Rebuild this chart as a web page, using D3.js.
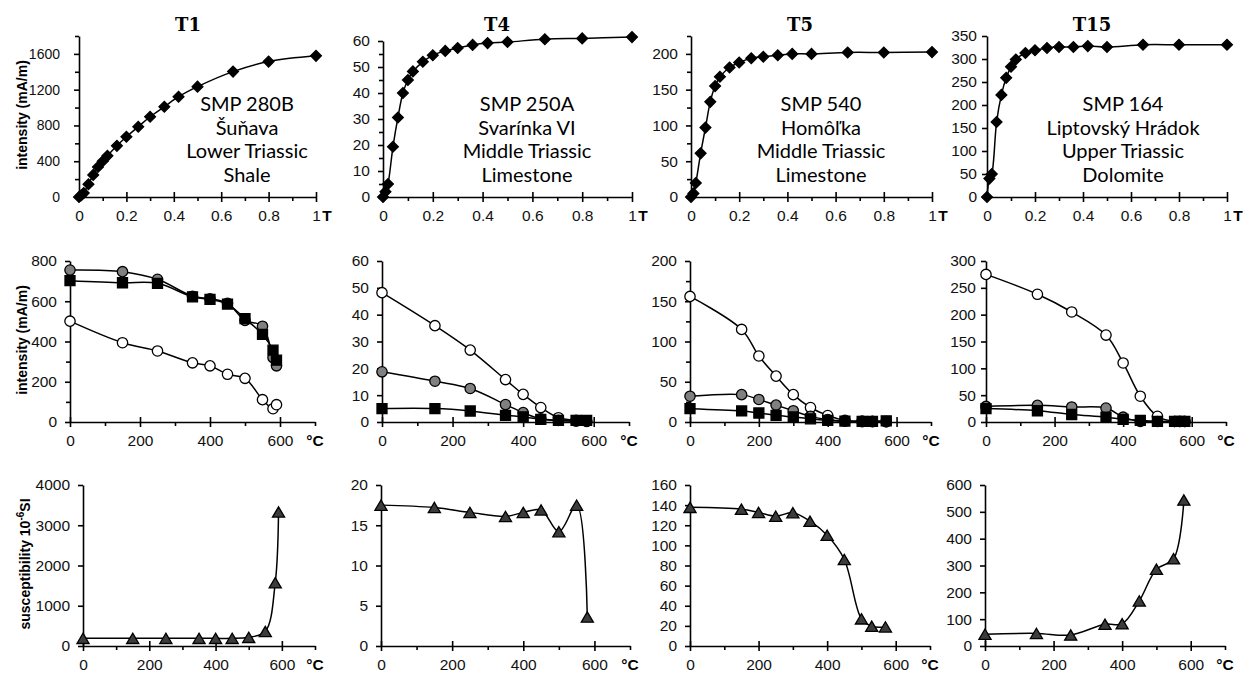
<!DOCTYPE html>
<html>
<head>
<meta charset="utf-8">
<script src="https://cdn.jsdelivr.net/npm/d3@7"></script>
<style>
  body { margin: 0; background: #fff; }
  svg { display: block; }
  .tick text { font-family: "Liberation Sans", Arial, sans-serif; font-size: 15.5px; fill: #111; }
  .domain, .tick line { stroke: #000; stroke-width: 1.6; }
</style>
</head>
<body>
<svg id="chart" width="1244" height="677"></svg>
<script>
// ---- data ----
// row 1: IRM acquisition, applied field (T)
const fields = [0, 0.01, 0.02, 0.04, 0.06, 0.08, 0.1, 0.12, 0.16, 0.2, 0.25, 0.3, 0.36, 0.42, 0.5, 0.65, 0.8, 1];
const irmT1 = [0, 20, 45, 142, 247, 336, 400, 460, 572, 673, 785, 897, 1009, 1121, 1234, 1402, 1514, 1578];
const irmT4 = [0, 2, 5, 19.3, 30.6, 40, 45, 48.3, 52, 54.5, 56.2, 57.3, 58.5, 59.2, 59.6, 60.7, 61, 61.5];
const irmT5 = [0, 5, 19.6, 61, 97, 133, 155, 168, 181, 188, 194, 196, 198, 200, 200, 202, 202, 202.5];
const irmT15 = [0, 40, 50, 163, 222, 259, 283, 299, 313, 319, 324, 326, 326, 328, 326, 331, 331, 331];

// row 2: thermal demagnetisation of 3-component IRM (soft = open, medium = grey, hard = square)
const tempT1 = [0, 150, 250, 350, 400, 450, 500, 550, 580, 590];
const softT1 = [501, 394, 353, 294, 279, 237, 217, 111, 66, 86];
const mediumT1 = [755, 747, 709, 625, 612, 590, 505, 476, 320, 279];
const hardT1 = [702, 692, 689, 622, 609, 586, 514, 435, 357, 307];

const tempT4 = [0, 150, 250, 350, 400, 450, 500, 550, 580];
const softT4 = [48.2, 35.9, 26.8, 15.8, 10.3, 5.4, 1.6, 0.6, 0.3];
const mediumT4 = [18.7, 15.2, 12.5, 6.5, 3.5, 1.2, 0.6, 0.3, 0.2];
const hardT4 = [5.0, 5.0, 4.1, 2.5, 1.9, 1.0, 0.6, 0.6, 0.6];

const tempT5 = [0, 150, 200, 250, 300, 350, 400, 450, 500, 530, 570];
const softT5 = [156, 115, 82, 57, 34, 18, 8, 2, 1, 0.8, 0.5];
const mediumT5 = [32, 34, 28, 21, 14, 7, 3, 1, 0.5, 0.5, 0.5];
const hardT5 = [16.6, 13.7, 11.2, 8.3, 6.2, 4, 2, 1.2, 0.8, 0.8, 1.5];

const tempT15 = [0, 150, 250, 350, 400, 450, 500, 550, 565, 580];
const softT15 = [275, 238, 205, 162, 110, 48, 10.6, 1, 1, 1];
const mediumT15 = [29, 31, 28, 26, 9, 1, 1, 1, 1, 1];
const hardT15 = [25, 21, 14, 9, 5, 3, 1, 1, 1, 1];

// row 3: magnetic susceptibility on heating (10^-6 SI)
const chiTempT1 = [0, 150, 250, 350, 400, 450, 500, 550, 580, 590];
const chiT1 = [190, 190, 190, 190, 190, 190, 215, 360, 1570, 3330];
const chiTempT4 = [0, 150, 250, 350, 400, 450, 500, 550, 580];
const chiT4 = [17.5, 17.2, 16.6, 16.1, 16.6, 16.9, 14.2, 17.5, 3.6];
const chiTempT5 = [0, 150, 200, 250, 300, 350, 400, 450, 500, 530, 570];
const chiT5 = [137.8, 136, 132.8, 129, 132.5, 124, 110, 86, 27, 19.6, 19];
const chiTempT15 = [0, 150, 250, 350, 400, 450, 500, 550, 580];
const chiT15 = [44, 47, 41, 81, 83, 168, 286, 325, 544];

const sampleNames = ["T1", "T4", "T5", "T15"];
const sampleNotes = [
  ["SMP 280B", "Šuňava", "Lower Triassic", "Shale"],
  ["SMP 250A", "Svarínka VI", "Middle Triassic", "Limestone"],
  ["SMP 540", "Homôľka", "Middle Triassic", "Limestone"],
  ["SMP 164", "Liptovský Hrádok", "Upper Triassic", "Dolomite"]
];

const fieldTicks = [0, 0.2, 0.4, 0.6, 0.8, 1];
const fieldMinor = [0.1, 0.3, 0.5, 0.7, 0.9];
const tempTicks = [0, 200, 400, 600];
const tempMinor = [100, 300, 500, 700];

// ---- drawing ----
const svg = d3.select("#chart");
const GREY = "#808080";
const TRI = "#3c3c3c";

// triangle centred on its bounding box, like the spreadsheet marker
const triangleBox = {
  draw(ctx, size) {
    const w = Math.sqrt(size * 1.6), h = w * 0.85;
    ctx.moveTo(0, -h / 2);
    ctx.lineTo(w / 2, h / 2);
    ctx.lineTo(-w / 2, h / 2);
    ctx.closePath();
  }
};

function markerPath(kind) {
  if (kind === "diamond") return d3.symbol(d3.symbolSquare, 58)();
  if (kind === "square") return d3.symbol(d3.symbolSquare, 100)();
  if (kind === "triangle") return d3.symbol(triangleBox, 92)();
  return d3.symbol(d3.symbolCircle, 84)();
}

function drawPanel(p) {
  const g = svg.append("g");
  const x = d3.scaleLinear().domain(p.xDomain).range(p.xRange);
  const y = d3.scaleLinear().domain(p.yDomain).range(p.yRange);
  const y0 = y(0);

  // x axis: minor ticks outward, major ticks crossing
  g.append("g").attr("transform", `translate(0,${y0})`)
    .call(d3.axisBottom(x).tickValues(p.xMinor).tickSize(4).tickFormat(""))
    .select(".domain").remove();
  const xa = g.append("g").attr("transform", `translate(0,${y0})`)
    .call(d3.axisBottom(x).tickValues(p.xMajor).tickSizeInner(5).tickSizeOuter(0)
      .tickPadding(8).tickFormat(p.xFormat));
  xa.selectAll(".tick line").attr("y1", -5);

  // y axis
  if (p.yMinor) {
    g.append("g").attr("transform", `translate(${x(0)},0)`)
      .call(d3.axisLeft(y).tickValues(p.yMinor).tickSize(4).tickFormat(""))
      .select(".domain").remove();
  }
  const ya = g.append("g").attr("transform", `translate(${x(0)},0)`)
    .call(d3.axisLeft(y).tickValues(p.yMajor).tickSizeInner(5).tickSizeOuter(0)
      .tickPadding(p.yPad).tickFormat(d3.format("d")));
  if (p.yFont) ya.selectAll(".tick text").style("font-size", p.yFont + "px");

  // unit at the end of the x axis
  g.append("text")
    .attr("x", x(p.xDomain[1]) + p.unitDx)
    .attr("y", y0 + 24)
    .attr("text-anchor", "middle")
    .style("font-family", "Liberation Sans, Arial, sans-serif")
    .style("font-size", "15.5px").style("font-weight", "bold")
    .text(p.unit);

  const line = d3.line()
    .x(d => x(d[0])).y(d => y(d[1]))
    .curve(d3.curveCatmullRom.alpha(0.5));

  p.series.forEach(s => {
    const pts = s.xs.map((v, i) => [v, s.ys[i]]);
    g.append("path").datum(pts)
      .attr("d", line).attr("fill", "none")
      .attr("stroke", "#000").attr("stroke-width", 1.5);
  });
  p.series.forEach(s => {
    const pts = s.xs.map((v, i) => [v, s.ys[i]]);
    g.selectAll(null).data(pts).enter().append("path")
      .attr("d", markerPath(s.marker))
      .attr("transform", d => `translate(${x(d[0])},${y(d[1])})` + (s.marker === "diamond" ? " rotate(45)" : ""))
      .attr("fill", s.fill).attr("stroke", "#000").attr("stroke-width", 1.3);
  });
}

const fieldFmt = d => d === 0 ? "0" : d === 1 ? "1" : d.toFixed(1);
const tempFmt = d3.format("d");

// row 1 geometry per column
const row1 = [
  { xRange: [79, 316], yDomain: [0, 1800], yRange: [197, 36], yMajor: d3.range(0, 1601, 400), yMinor: d3.range(200, 1801, 400), ys: irmT1, yPad: 14, yFont: 14 },
  { xRange: [383, 632], yDomain: [0, 60], yRange: [197, 41], yMajor: d3.range(0, 61, 10), yMinor: d3.range(5, 60, 10), ys: irmT4, yPad: 8 },
  { xRange: [691, 932], yDomain: [0, 225], yRange: [197, 36], yMajor: d3.range(0, 201, 50), yMinor: d3.range(25, 226, 50), ys: irmT5, yPad: 8 },
  { xRange: [987, 1227], yDomain: [0, 350], yRange: [197, 36], yMajor: d3.range(0, 351, 50), yMinor: null, ys: irmT15, yPad: 5 }
];
row1.forEach(r => drawPanel({
  xDomain: [0, 1], xRange: r.xRange, yDomain: r.yDomain, yRange: r.yRange,
  xMajor: fieldTicks, xMinor: fieldMinor, xFormat: fieldFmt,
  yMajor: r.yMajor, yMinor: r.yMinor, yPad: r.yPad, yFont: r.yFont,
  unit: "T", unitDx: 11,
  series: [{ xs: fields, ys: r.ys, marker: "diamond", fill: "#000" }]
}));

const row2 = [
  { xRange: [70, 315], yDomain: [0, 800], yMajor: d3.range(0, 801, 200), yMinor: d3.range(100, 800, 200), t: tempT1, s: [softT1, mediumT1, hardT1], yPad: 8 },
  { xRange: [382, 629], yDomain: [0, 60], yMajor: d3.range(0, 61, 10), yMinor: null, t: tempT4, s: [softT4, mediumT4, hardT4], yPad: 8 },
  { xRange: [690, 931], yDomain: [0, 200], yMajor: d3.range(0, 201, 50), yMinor: d3.range(25, 200, 50), t: tempT5, s: [softT5, mediumT5, hardT5], yPad: 8 },
  { xRange: [986, 1226], yDomain: [0, 300], yMajor: d3.range(0, 301, 50), yMinor: null, t: tempT15, s: [softT15, mediumT15, hardT15], yPad: 5 }
];
row2.forEach(r => drawPanel({
  xDomain: [0, 700], xRange: r.xRange, yDomain: r.yDomain, yRange: [422, 261],
  xMajor: tempTicks, xMinor: tempMinor, xFormat: tempFmt,
  yMajor: r.yMajor, yMinor: r.yMinor, yPad: r.yPad,
  unit: "°C", unitDx: 0,
  series: [
    { xs: r.t, ys: r.s[0], marker: "circle", fill: "#fff" },
    { xs: r.t, ys: r.s[1], marker: "circle", fill: GREY },
    { xs: r.t, ys: r.s[2], marker: "square", fill: "#000" }
  ]
}));

const row3 = [
  { xRange: [83, 315], yDomain: [0, 4000], yMajor: d3.range(0, 4001, 1000), t: chiTempT1, ys: chiT1 },
  { xRange: [381, 630], yDomain: [0, 20], yMajor: d3.range(0, 21, 5), t: chiTempT4, ys: chiT4 },
  { xRange: [690, 930], yDomain: [0, 160], yMajor: d3.range(0, 161, 20), t: chiTempT5, ys: chiT5 },
  { xRange: [985, 1225], yDomain: [0, 600], yMajor: d3.range(0, 601, 100), t: chiTempT15, ys: chiT15 }
];
row3.forEach(r => drawPanel({
  xDomain: [0, 700], xRange: r.xRange, yDomain: r.yDomain, yRange: [646, 485],
  xMajor: tempTicks, xMinor: tempMinor, xFormat: tempFmt,
  yMajor: r.yMajor, yMinor: null, yPad: 8,
  unit: "°C", unitDx: 0,
  series: [{ xs: r.t, ys: r.ys, marker: "triangle", fill: TRI }]
}));

// column titles and sample notes
const titleX = [188, 497, 800, 1092];
const noteX = [247, 527, 821, 1123];
sampleNames.forEach((name, i) => {
  svg.append("text").attr("x", titleX[i]).attr("y", 31)
    .attr("text-anchor", "middle")
    .style("font-family", "DejaVu Serif, serif").style("font-weight", "bold").style("font-size", "18px")
    .text(name);
  sampleNotes[i].forEach((line, j) => {
    svg.append("text").attr("x", noteX[i]).attr("y", 111 + j * 23.6)
      .attr("text-anchor", "middle")
      .style("font-family", "Lato, sans-serif").style("font-size", "20px")
      .text(line);
  });
});

// y axis titles
const yTitle = (cx, cy, build) => {
  const t = svg.append("text")
    .attr("transform", `translate(${cx},${cy}) rotate(-90)`)
    .attr("text-anchor", "middle")
    .style("font-family", "Liberation Sans, Arial, sans-serif")
    .style("font-size", "14px").style("font-weight", "bold");
  build(t);
};
yTitle(27, 115, t => t.text("intensity (mA/m)"));
yTitle(27, 340, t => t.text("intensity (mA/m)"));
yTitle(30, 564, t => {
  t.append("tspan").text("susceptibility 10");
  t.append("tspan").attr("dy", -6).style("font-size", "10px").text("-6");
  t.append("tspan").attr("dy", 6).text("SI");
});
</script>
</body>
</html>
